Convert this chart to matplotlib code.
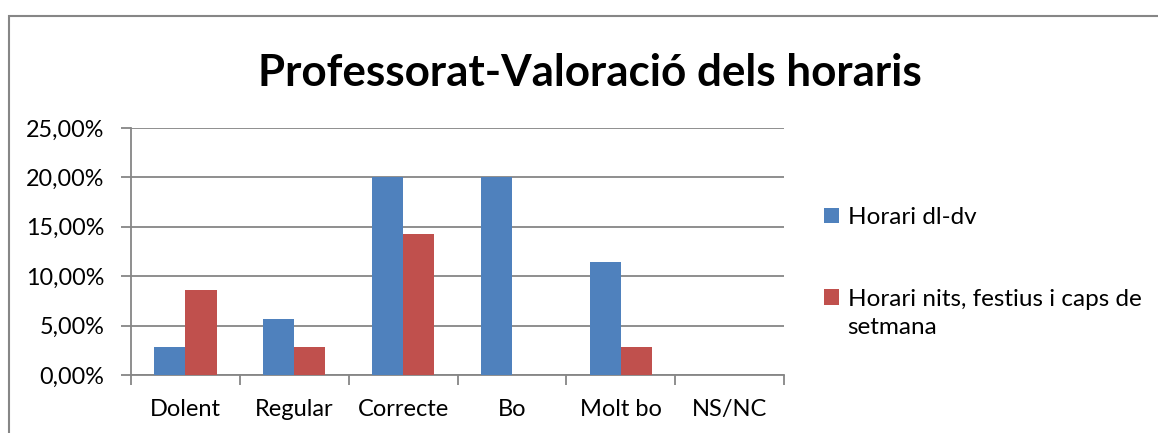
import matplotlib
matplotlib.use("Agg")
import matplotlib.pyplot as plt
from matplotlib.patches import Rectangle
import numpy as np

categories = ["Dolent", "Regular", "Correcte", "Bo", "Molt bo", "NS/NC"]
series_names = ["Horari dl-dv", "Horari nits, festius i caps de", "setmana"]
dl_dv = [2.86, 5.71, 20.00, 20.00, 11.43, 0.00]
nits = [8.57, 2.86, 14.29, 0.00, 2.86, 0.00]
yticks = [0, 5, 10, 15, 20, 25]
title = "Professorat-Valoració dels horaris"

plt.rcParams['font.family'] = ['Lato', 'DejaVu Sans']

W, H = 1158, 433
fig = plt.figure(figsize=(W / 100, H / 100), dpi=100)
ax = fig.add_axes([131 / W, 1 - 375 / H, (784 - 131) / W, (375 - 128) / H])

gray = "#868686"
blue = "#4F81BD"
red = "#C0504D"
bw = 1 / 3.5
x = np.arange(len(categories))
ax.bar(x - bw / 2, dl_dv, bw, color=blue, label=series_names[0], zorder=3)
ax.bar(x + bw / 2, nits, bw, color=red, label=series_names[1], zorder=3)

ax.set_xlim(-0.5, len(categories) - 0.5)
ax.set_ylim(0, 25)
ax.set_yticks(yticks)
ax.set_yticklabels([f"{v:.2f}%".replace(".", ",") for v in yticks])
ax.yaxis.grid(True, color=gray, lw=1.3, zorder=0)
ax.set_xticks(np.arange(len(categories) + 1) - 0.5)
ax.set_xticklabels([])
ax.set_xticks(x, minor=True)
ax.set_xticklabels(categories, minor=True)
ax.tick_params(axis='x', which='major', length=7, width=1.3, color=gray, direction='out')
ax.tick_params(axis='x', which='minor', length=0, pad=17, labelsize=17)
ax.tick_params(axis='y', length=7, width=1.3, color=gray, direction='out', pad=12, labelsize=16.8)
for s in ["top", "right"]:
    ax.spines[s].set_visible(False)
for s in ["left", "bottom"]:
    ax.spines[s].set_color(gray)
    ax.spines[s].set_linewidth(1.3)

fig.text(590 / W, 1 - 73 / H, title, ha='center', va='center', fontsize=31.7, fontweight='bold')

leg = ax.legend(loc='upper left', bbox_to_anchor=(824 / W, 1 - 207 / H), bbox_transform=fig.transFigure,
                frameon=False, fontsize=17.5, labelspacing=2.5, handlelength=0.62, handleheight=0.62,
                handletextpad=0.35, borderpad=0, borderaxespad=0)

fig.canvas.draw()
r = fig.canvas.get_renderer()
ext = leg.get_texts()[1].get_window_extent(r)
fig.text(ext.x0 / W, 1 - 328 / H, series_names[2], ha='left', va='center', fontsize=17.5)

fig.patches.append(Rectangle((9 / W, -0.1), 1.2, 1.1 - 16 / H, transform=fig.transFigure,
                             fill=False, edgecolor=gray, lw=1.5))

fig.savefig("out.png", dpi=100)
